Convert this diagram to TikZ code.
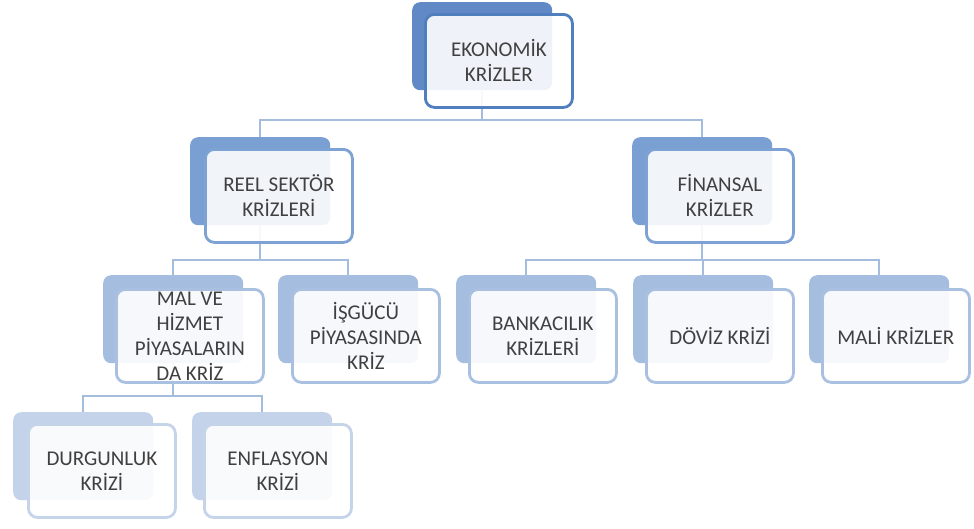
\documentclass[tikz,border=0pt]{standalone}
\usepackage{fontspec}
\setmainfont{Carlito}
\begin{document}
\definecolor{bkA}{HTML}{6089C6}
\definecolor{brA}{HTML}{4F7FBE}
\definecolor{bkB}{HTML}{7A9FD3}
\definecolor{brB}{HTML}{7EA2D4}
\definecolor{bkC}{HTML}{A5BDDF}
\definecolor{brC}{HTML}{A9C0E1}
\definecolor{bkD}{HTML}{C4D3EA}
\definecolor{brD}{HTML}{C6D4EA}
\definecolor{lnc}{HTML}{A4BCDD}
\definecolor{txc}{HTML}{404040}
\begin{tikzpicture}[x=1pt,y=-1pt,
  backbox/.style={anchor=north west, rounded corners=8pt, minimum width=140pt, minimum height=88pt, inner sep=0pt},
  frontbox/.style={anchor=north west, rounded corners=9pt, minimum width=147pt, minimum height=93pt, line width=2.8pt, fill=white, fill opacity=0.9, text opacity=1, text=txc, font=\fontsize{21}{25}\selectfont, align=center, inner sep=2pt},
  conn/.style={draw=lnc, line width=2.4pt}]
\useasboundingbox (0,0) rectangle (974,528);
% bus coordinates
\coordinate (bus0) at (0,120);
\coordinate (bus1) at (0,260);
\coordinate (bus2) at (0,396);
% back shapes
\node[backbox, fill=bkA] (e-b) at (412,2) {};
\node[backbox, fill=bkB] (r-b) at (190,137) {};
\node[backbox, fill=bkB] (f-b) at (632,137) {};
\node[backbox, fill=bkC] (m-b) at (103,275) {};
\node[backbox, fill=bkC] (i-b) at (278,275) {};
\node[backbox, fill=bkC] (b-b) at (456,275) {};
\node[backbox, fill=bkC] (d-b) at (633,275) {};
\node[backbox, fill=bkC] (ml-b) at (809,275) {};
\node[backbox, fill=bkD] (du-b) at (13,412) {};
\node[backbox, fill=bkD] (en-b) at (192,412) {};
% connectors
\begin{scope}[on background layer/.style={}]
\draw[conn] (e-b.south) -- (e-b.south |- bus0) -| (r-b.north);
\draw[conn] (e-b.south |- bus0) -| (f-b.north);
\draw[conn] (r-b.south) -- (r-b.south |- bus1) -| (m-b.north);
\draw[conn] (r-b.south |- bus1) -| (i-b.north);
\draw[conn] (f-b.south) -- (f-b.south |- bus1) -| (b-b.north);
\draw[conn] (f-b.south |- bus1) -| (d-b.north);
\draw[conn] (f-b.south |- bus1) -| (ml-b.north);
\draw[conn] (m-b.south) -- (m-b.south |- bus2) -| (du-b.north);
\draw[conn] (m-b.south |- bus2) -| (en-b.north);
\end{scope}
% front shapes
\node[frontbox, draw=brA] (e) at (424,13) {EKONOMİK\\KRİZLER};
\node[frontbox, draw=brB] (r) at (204,148) {REEL SEKTÖR\\KRİZLERİ};
\node[frontbox, draw=brB] (f) at (645,148) {FİNANSAL\\KRİZLER};
\node[frontbox, draw=brC] (m) at (115,288) {MAL VE\\HİZMET\\PİYASALARIN\\DA KRİZ};
\node[frontbox, draw=brC] (i) at (291,288) {İŞGÜCÜ\\PİYASASINDA\\KRİZ};
\node[frontbox, draw=brC] (b) at (468,288) {BANKACILIK\\KRİZLERİ};
\node[frontbox, draw=brC] (d) at (645,288) {DÖVİZ KRİZİ};
\node[frontbox, draw=brC] (ml) at (821,288) {MALİ KRİZLER};
\node[frontbox, draw=brD] (du) at (27,423) {DURGUNLUK\\KRİZİ};
\node[frontbox, draw=brD] (en) at (203,423) {ENFLASYON\\KRİZİ};
\end{tikzpicture}
\end{document}
